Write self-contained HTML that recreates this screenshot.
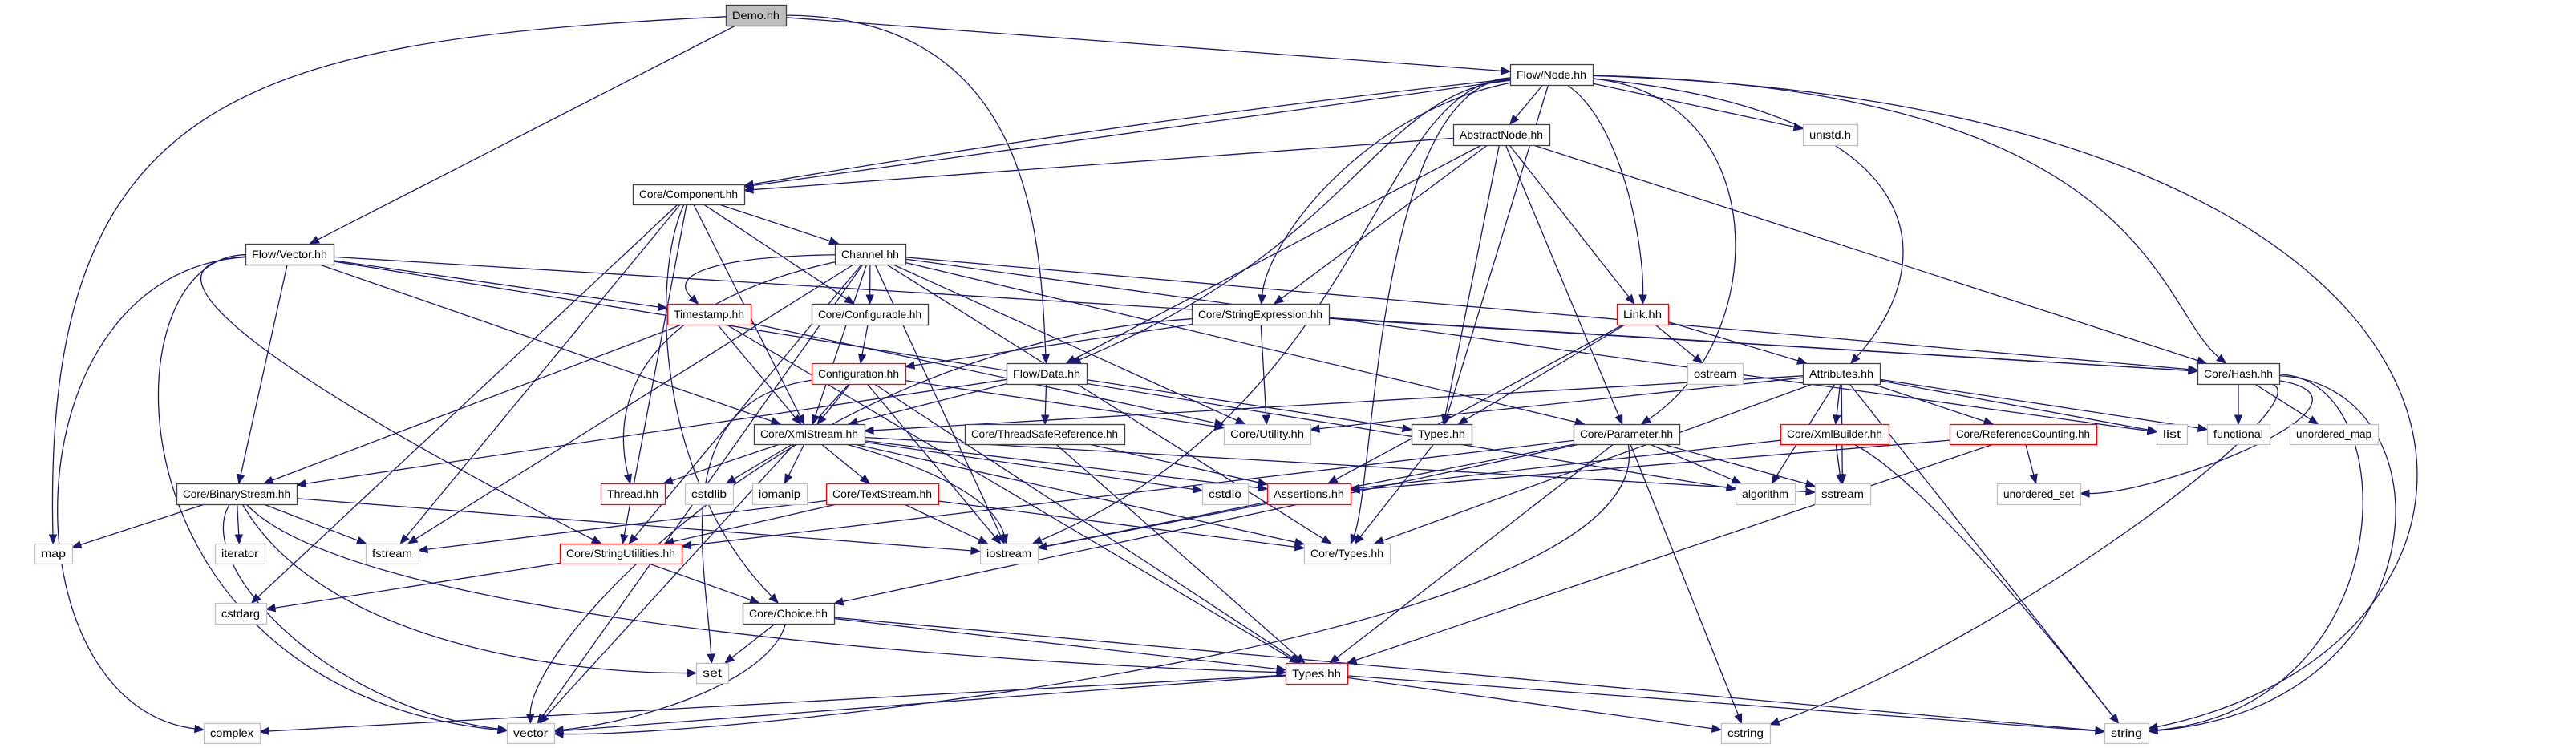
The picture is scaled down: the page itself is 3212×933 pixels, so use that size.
<!DOCTYPE html>
<html><head><meta charset="utf-8"><style>
html,body{margin:0;padding:0;background:#fff;width:3212px;height:933px;overflow:hidden}
svg{display:block}
</style></head><body>
<svg id="g" width="3212" height="933" xmlns="http://www.w3.org/2000/svg" font-family="'Liberation Sans',sans-serif">
<rect width="3212" height="933" fill="#fff"/>
<g id="edges"></g><g id="nodes"></g>
</svg>
<script>
const N={
Demo:[905,6,980,32,'Demo.hh','k',1],
FlowNode:[1883,80,1986,106,'Flow/Node.hh','k'],
Abstract:[1812,155,1932,181,'AbstractNode.hh','k'],
unistd:[2248,155,2316,181,'unistd.h','g'],
Component:[789,230,928,255,'Core/Component.hh','k'],
FlowVector:[306,304,416,330,'Flow/Vector.hh','k'],
Channel:[1041,304,1129,330,'Channel.hh','k'],
Timestamp:[832,379,936,405,'Timestamp.hh','r'],
Configurable:[1012,379,1157,405,'Core/Configurable.hh','k'],
StrExpr:[1486,379,1657,405,'Core/StringExpression.hh','k'],
Link:[2016,379,2080,405,'Link.hh','r'],
Configuration:[1012,453,1129,479,'Configuration.hh','r'],
FlowData:[1255,453,1355,479,'Flow/Data.hh','k'],
ostream:[2104,453,2173,479,'ostream','g'],
Attributes:[2248,453,2344,479,'Attributes.hh','k'],
Hash:[2740,453,2842,479,'Core/Hash.hh','k'],
XmlStream:[940,529,1078,554,'Core/XmlStream.hh','k'],
TSR:[1203,529,1402,554,'Core/ThreadSafeReference.hh','k'],
Utility:[1526,529,1634,554,'Core/Utility.hh','g'],
TypesB:[1760,529,1835,554,'Types.hh','k'],
Parameter:[1962,529,2094,554,'Core/Parameter.hh','k'],
XmlBuilder:[2220,529,2355,554,'Core/XmlBuilder.hh','r'],
RefCount:[2431,529,2614,554,'Core/ReferenceCounting.hh','r'],
list:[2689,529,2727,554,'list','g'],
functional:[2752,529,2830,554,'functional','g'],
umap:[2855,529,2965,554,'unordered_map','g'],
BinaryStream:[220,603,370,629,'Core/BinaryStream.hh','k'],
Thread:[749,603,829,629,'Thread.hh','r'],
cstdlib:[854,603,914,629,'cstdlib','g'],
iomanip:[938,603,1006,629,'iomanip','g'],
TextStream:[1030,603,1170,629,'Core/TextStream.hh','r'],
cstdio:[1499,603,1556,629,'cstdio','g'],
Assertions:[1580,603,1684,629,'Assertions.hh','r'],
algorithm:[2164,603,2238,629,'algorithm','g'],
sstream:[2263,603,2332,629,'sstream','g'],
uset:[2490,603,2594,629,'unordered_set','g'],
map:[43,678,90,703,'map','g'],
iterator:[268,678,330,703,'iterator','g'],
fstream:[456,678,522,703,'fstream','g'],
StrUtil:[698,678,850,703,'Core/StringUtilities.hh','r'],
iostream:[1222,678,1294,703,'iostream','g'],
CoreTypes:[1626,678,1733,703,'Core/Types.hh','g'],
cstdarg:[268,752,332,778,'cstdarg','g'],
Choice:[926,752,1040,778,'Core/Choice.hh','k'],
set:[868,827,908,852,'set','g'],
TypesR:[1603,827,1680,853,'Types.hh','r'],
complex:[254,902,324,927,'complex','g'],
vector:[632,902,691,927,'vector','g'],
cstring:[2146,902,2207,927,'cstring','g'],
string:[2624,902,2679,927,'string','g']
};
const E=[
['Demo','map',[300,50,53,120]],['Demo','FlowVector'],['Demo','FlowData',[1290,20,1297,300]],['Demo','FlowNode'],
['FlowNode','Component'],['FlowNode','Component',[1400,150,1000,220]],['FlowNode','Abstract'],['FlowNode','unistd'],
['FlowNode','Link',[2020,150,2050,300]],['FlowNode','Hash',[2680,110,2687,380]],['FlowNode','string',[3200,130,3204,800]],
['FlowNode','Attributes',[2420,140,2420,330]],['FlowNode','TypesB'],['FlowNode','Parameter',[2210,120,2210,420]],
['FlowNode','FlowData',[1710,120,1700,300]],['FlowNode','StrExpr',[1700,140,1580,300]],['FlowNode','iostream',[1710,110,1710,500]],
['FlowNode','CoreTypes',[1715,110,1715,600]],
['Abstract','Component'],['Abstract','StrExpr'],['Abstract','FlowData'],['Abstract','TypesB'],['Abstract','Parameter'],['Abstract','Link'],['Abstract','Hash'],
['Component','Channel'],['Component','Configurable'],['Component','XmlStream'],['Component','cstdarg'],['Component','StrUtil'],['Component','Choice',[810,350,820,600]],['Component','fstream'],
['Channel','Configurable'],['Channel','Timestamp',[900,320,830,340]],['Channel','XmlStream'],['Channel','Thread',[800,380,760,500]],['Channel','StrUtil'],['Channel','fstream'],['Channel','vector'],
['Channel','iostream'],['Channel','Utility'],['Channel','Parameter'],['Channel','list'],['Channel','Hash'],['Channel','CoreTypes'],
['FlowVector','BinaryStream'],['FlowVector','XmlStream'],['FlowVector','complex',[5,340,5,880]],['FlowVector','vector',[128,320,128,860]],
['FlowVector','Timestamp'],['FlowVector','Hash'],['FlowVector','algorithm'],['FlowVector','StrUtil',[130,330,400,500]],
['Timestamp','BinaryStream'],['Timestamp','XmlStream'],['Timestamp','Utility'],['Timestamp','TypesR'],
['Configurable','Configuration'],['StrExpr','Configuration'],['StrExpr','Utility'],['StrExpr','Hash'],['StrExpr','vector',[1000,430,660,800]],
['Configuration','XmlStream'],['Configuration','iostream'],['Configuration','set',[830,500,880,700]],['Configuration','vector'],['Configuration','Utility'],['Configuration','TypesR'],
['FlowData','XmlStream'],['FlowData','TSR'],['FlowData','TypesB'],['FlowData','BinaryStream'],
['XmlStream','Thread'],['XmlStream','cstdlib'],['XmlStream','iomanip'],['XmlStream','TextStream'],['XmlStream','iostream',[1150,580,1240,620]],['XmlStream','cstdio'],['XmlStream','Assertions'],['XmlStream','sstream'],['XmlStream','CoreTypes'],
['TSR','Assertions'],['TSR','TypesR'],
['TextStream','StrUtil'],['TextStream','iostream'],['TextStream','CoreTypes'],['TextStream','fstream'],
['BinaryStream','map'],['BinaryStream','iterator'],['BinaryStream','fstream'],['BinaryStream','vector',[240,700,400,880]],['BinaryStream','set',[400,800,700,840]],['BinaryStream','iostream'],['BinaryStream','TypesR',[450,780,1300,830]],
['StrUtil','cstdarg'],['StrUtil','Choice'],
['Choice','set'],['Choice','vector',[960,850,800,900]],['Choice','TypesR'],['Choice','string'],
['TypesR','complex'],['TypesR','vector'],['TypesR','cstring'],['TypesR','string'],
['TypesB','CoreTypes'],
['Link','TypesB'],['Link','Assertions'],['Link','ostream'],['Link','Attributes'],
['Attributes','XmlStream'],['Attributes','Utility'],['Attributes','XmlBuilder'],['Attributes','algorithm'],['Attributes','sstream'],['Attributes','RefCount'],['Attributes','list'],['Attributes','functional'],['Attributes','string'],['Attributes','CoreTypes'],
['Parameter','StrUtil'],['Parameter','Choice'],['Parameter','TypesR'],['Parameter','algorithm'],['Parameter','sstream'],['Parameter','cstring'],['Parameter','vector',[2075,800,900,920]],['Parameter','iostream'],
['XmlBuilder','Assertions'],['XmlBuilder','sstream'],['XmlBuilder','string',[2400,600,2560,800]],
['RefCount','Assertions'],['RefCount','uset'],['RefCount','TypesR'],
['Hash','functional'],['Hash','umap'],['Hash','uset',[2990,500,2700,615]],['Hash','string',[3000,470,3000,880]],['Hash','string',[3060,480,3050,880]],['Hash','cstring',[2900,500,2500,800]],
['Assertions','iostream']
];
const NS='http://www.w3.org/2000/svg';
function ctr(n){const r=N[n];return[(r[0]+r[2])/2,(r[1]+r[3])/2];}
function clip(n,px,py){const r=N[n];const [cx,cy]=ctr(n);const dx=px-cx,dy=py-cy;const hw=(r[2]-r[0])/2,hh=(r[3]-r[1])/2;
 if(dx===0&&dy===0)return[cx,cy];const t=Math.min(dx?hw/Math.abs(dx):1e9,dy?hh/Math.abs(dy):1e9);return[cx+dx*t,cy+dy*t];}
const eg=document.getElementById('edges');let s='';
for(const e of E){const [a,b,c]=e;let p0,p3,dirFrom;
 if(c){p0=clip(a,c[0],c[1]);p3=clip(b,c[2],c[3]);dirFrom=[c[2],c[3]];}
 else{const cb=ctr(b),ca=ctr(a);p0=clip(a,cb[0],cb[1]);p3=clip(b,ca[0],ca[1]);dirFrom=p0;}
 let dx=p3[0]-dirFrom[0],dy=p3[1]-dirFrom[1];const L=Math.hypot(dx,dy)||1;dx/=L;dy/=L;
 const bx=p3[0]-dx*11,by=p3[1]-dy*11;
 if(c)s+=`<path d="M${p0[0]},${p0[1]} C${c[0]},${c[1]} ${c[2]},${c[3]} ${bx},${by}" fill="none" stroke="#191970" stroke-width="1.3"/>`;
 else s+=`<path d="M${p0[0]},${p0[1]} L${bx},${by}" fill="none" stroke="#191970" stroke-width="1.3"/>`;
 s+=`<polygon points="${p3[0]},${p3[1]} ${bx-dy*4.5},${by+dx*4.5} ${bx+dy*4.5},${by-dx*4.5}" fill="#191970" stroke="#191970"/>`;}
eg.innerHTML=s;
let t='';
for(const k in N){const r=N[k];const col=r[5]==='r'?'#ff0000':r[5]==='g'?'#bfbfbf':'#404040';
 t+=`<rect x="${r[0]+0.5}" y="${r[1]+0.5}" width="${r[2]-r[0]}" height="${r[3]-r[1]}" fill="${r[6]?'#bfbfbf':'#fff'}" stroke="${col}" stroke-width="1.3"/>`;
 const w=r[2]-r[0]-16;
 t+=`<text x="${(r[0]+r[2])/2}" y="${r[3]-8}" font-size="14" text-anchor="middle" fill="#000" textLength="${w}" lengthAdjust="spacingAndGlyphs">${r[4]}</text>`;}
document.getElementById('nodes').innerHTML=t;
</script>
</body></html>
